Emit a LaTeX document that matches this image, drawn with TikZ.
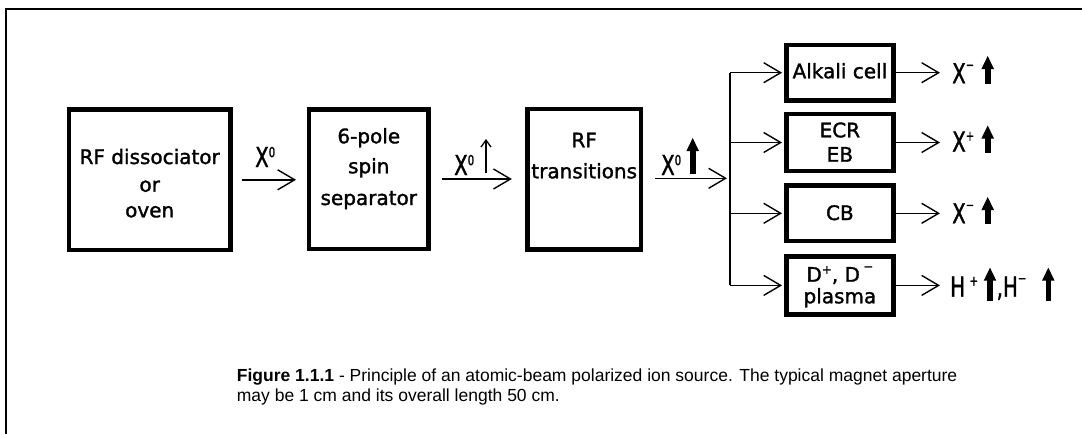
\documentclass[tikz,border=0pt]{standalone}
\usepackage{fontspec}
\setmainfont{Liberation Sans}
\newfontfamily\dgfont{DejaVu Sans}[FakeBold=1.5]
\newfontfamily\lbfont{DejaVu Sans}[FakeStretch=0.72,FakeBold=1.2]
\usetikzlibrary{arrows.meta}
\newcommand{\supr}[2]{\raisebox{#1}{\fontsize{14}{14}\selectfont #2}}
\newcommand{\supd}[2]{\raisebox{#1}{\fontsize{12}{12}\selectfont #2}}
\tikzset{
  box/.style={draw, line width=4.5pt, inner sep=0pt},
  line/.style={line width=1.4pt},
  conn/.style={line width=1.4pt, -{Straight Barb[length=17pt,width=20pt]}},
  txt/.style={font=\dgfont\fontsize{20}{20}\selectfont, inner sep=0pt, anchor=base},
  lbl/.style={font=\lbfont\fontsize{27.5}{27.5}\selectfont, inner sep=0pt, anchor=base west},
  capt/.style={font=\fontsize{17.5}{17.5}\selectfont, inner sep=0pt, anchor=base west},
  pics/boldup/.style={code={
    \fill (-2.8,0) rectangle (2.8,{-(#1-11)});
    \fill (-6.3,{-(#1-13)}) -- (0,-#1) -- (6.3,{-(#1-13)}) -- cycle;
  }},
  pics/thinup/.style={code={
    \draw[line width=1.3pt, -{Straight Barb[length=7pt,width=10pt]}] (0,0) -- (0,-#1);
  }}
}
\begin{document}
\begin{tikzpicture}[x=1pt,y=-1pt]
\useasboundingbox (0,0) rectangle (1082,434);
% frame
\draw[line width=1.2pt] (6,434) -- (6,9) -- (1082,9);
% main boxes
\node[box, minimum width=161.5pt, minimum height=140.5pt] (b1) at (149.7,179.8) {};
\node[box, minimum width=119.8pt, minimum height=139.5pt] (b2) at (368.8,179) {};
\node[box, minimum width=113.8pt, minimum height=140.5pt] (b3) at (584.2,179.2) {};
% right boxes
\node[box, minimum width=107.2pt, minimum height=55.5pt] (bA) at (839.9,72.7) {};
\node[box, minimum width=107.2pt, minimum height=57.1pt] (bB) at (839.9,142.5) {};
\node[box, minimum width=107.2pt, minimum height=55.5pt] (bC) at (839.9,213.3) {};
\node[box, minimum width=107.2pt, minimum height=58.2pt] (bD) at (839.9,285.4) {};
% box texts
\node[txt] (t11) at (149.7,164) {RF dissociator};
\node[txt] (t12) at (149.7,191.7) {or};
\node[txt] (t13) at (149.7,217.3) {oven};
\node[txt] (t21) at (368.8,143.3) {6-pole};
\node[txt] (t22) at (368.8,173.3) {spin};
\node[txt] (t23) at (368.8,205) {separator};
\node[txt] (t31) at (584.2,147.3) {RF};
\node[txt] (t32) at (584.2,178.3) {transitions};
\node[txt] (tA) at (839.9,78.3) {Alkali cell};
\node[txt] (tB1) at (839.9,137.3) {ECR};
\node[txt] (tB2) at (839.9,161.7) {EB};
\node[txt] (tC) at (839.9,220) {CB};
\node[txt] (tD1) at (839.9,281.7) {D\supd{8pt}{+}, D\,\supd{11pt}{−}};
\node[txt] (tD2) at (839.9,303.3) {plasma};
% connectors between main boxes
\draw[conn, shorten <=9.5pt, shorten >=10.6pt] (b1.east) -- (b1.east -| b2.west);
\draw[conn, shorten <=11.2pt, shorten >=13.2pt] (b2.east) -- (b2.east -| b3.west);
\coordinate (split) at (730,178.3);
\draw[conn, shorten <=11.6pt, shorten >=3pt] (b3.east |- split) -- (split);
\draw[line] (split |- bA.west) -- (split |- bD.west);
\draw[conn, shorten >=2pt] (split |- bA.west) -- (bA.west);
\draw[conn, shorten >=2pt] (split |- bB.west) -- (bB.west);
\draw[conn, shorten >=2pt] (split |- bC.west) -- (bC.west);
\draw[conn, shorten >=2pt] (split |- bD.west) -- (bD.west);
% arrow labels
\node[lbl] (l1) at (255,167) {X\supr{9.8pt}{0}};
\node[lbl] (l2) at (454,175) {X\supr{9.8pt}{0}};
\pic at (486,173) {thinup=34};
\node[lbl] (l3) at (661,175) {X\supr{9.8pt}{0}};
\pic at (692.7,174) {boldup=36};
% output labels
\node[lbl] (oA) at (952,83.3) {X\supr{13.5pt}{−}};
\node[lbl] (oB) at (952,151.7) {X\supr{11pt}{+}};
\node[lbl] (oC) at (952,223.3) {X\supr{13.5pt}{−}};
\node[lbl] (oD) at (950,296.7) {H\,\supr{11pt}{+}};
\node[lbl] (oD2) at (996.5,296.7) {,H\supr{13.5pt}{−}};
\pic at (987.7,84) {boldup=28};
\pic at (987.7,152.5) {boldup=27};
\pic at (987.7,224) {boldup=27};
\pic at (990,300.7) {boldup=33};
\pic at (1048.3,300.7) {boldup=33};
% output connectors
\draw[conn, shorten >=12pt] (bA.east) -- (bA.east -| oA.west);
\draw[conn, shorten >=12pt] (bB.east) -- (bB.east -| oB.west);
\draw[conn, shorten >=12pt] (bC.east) -- (bC.east -| oC.west);
\draw[conn, shorten >=10pt] (bD.east) -- (bD.east -| oD.west);
% caption
\node[capt] (cap1) at (236.7,381.5) {\textbf{Figure 1.1.1} - Principle of an atomic-beam polarized ion source. The typical magnet aperture};
\node[capt] (cap2) at (236.7,401.5) {may be 1 cm and its overall length 50 cm.};
\end{tikzpicture}
\end{document}
